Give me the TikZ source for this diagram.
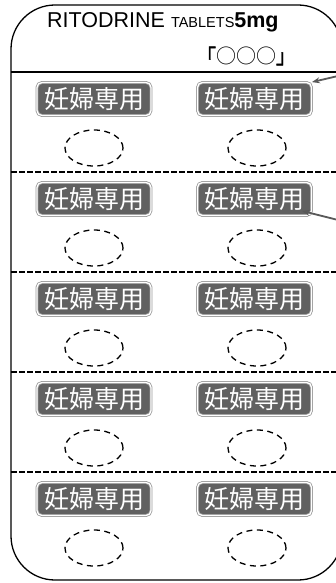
\documentclass[tikz,border=0pt]{standalone}
\usepackage{fontspec}
\newfontfamily\cjk{Noto Sans CJK JP}
\newfontfamily\cjkb[FakeBold=2]{Noto Sans CJK JP}
\newfontfamily\arial{Liberation Sans}
\usetikzlibrary{shapes.geometric,arrows.meta,calc}
\tikzset{
  badge/.style={rounded corners=5pt, fill=black!62, draw=black!40, double=white,
    double distance=1.3pt, line width=0.8pt, minimum width=114pt, minimum height=33pt,
    inner sep=0pt, text=white, font=\cjk\fontsize{25}{25}\selectfont},
  slot/.style={ellipse, draw, dash pattern=on 6pt off 4.5pt, line width=1.3pt,
    minimum width=58pt, minimum height=36pt, inner sep=0pt},
  rowsep/.style={line width=1.3pt, dash pattern=on 6pt off 2pt},
  pointer/.style={draw=black!65, line width=1.8pt, -{Stealth[length=8pt,width=6pt]}}
}
\begin{document}
\begin{tikzpicture}[x=1pt,y=-1pt]
\useasboundingbox (0,0) rectangle (336,583);
\clip (0,0) rectangle (336,583);
\draw[line width=1.3pt, rounded corners=44pt] (11,5) rectangle (342,580);
\node[anchor=base west, inner sep=0pt] (title) at (47,28)
  {\arial\fontsize{21.5}{21.5}\selectfont RITODRINE {\fontsize{14.5}{14.5}\selectfont TABLETS}\textbf{5mg}};
\node[inner sep=0pt, font=\cjk\fontsize{20}{20}\selectfont] (name) at (246,56)
  {{\cjkb 「}○○○{\cjkb 」}};
\draw[line width=1.3pt] (11,72) -- (342,72);
\foreach \r in {1,...,5}{
  \pgfmathsetmacro{\D}{72+100*(\r-1)}
  \node[badge] (b\r1) at (94,\D+27) {妊婦専用};
  \node[badge] (b\r2) at (254.5,\D+27) {妊婦専用};
  \node[slot] (e\r1) at (94,\D+76) {};
  \node[slot] (e\r2) at (257,\D+76) {};
}
\foreach \y in {172,272,372,472}{
  \draw[rowsep] (11,\y) -- (342,\y);
}
\coordinate (tail1) at (338,76);
\coordinate (tail2) at (338,220);
\coordinate (tip2) at ($(b22.south east)+(-10,-5)$);
\draw[pointer] (tail1) -- (b12.north east);
\draw[pointer] (tail2) -- (tip2);
\end{tikzpicture}
\end{document}
